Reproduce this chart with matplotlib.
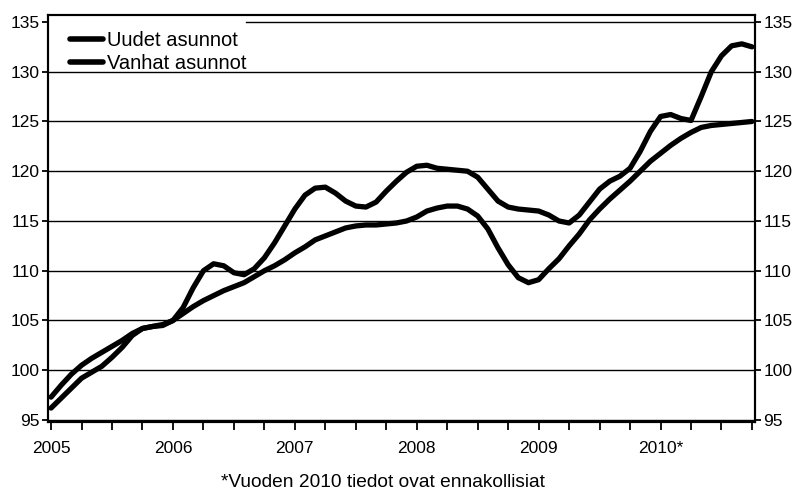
import numpy as np
import matplotlib
matplotlib.use('Agg')
import matplotlib.pyplot as plt

plt.rcParams['font.family'] = ['Liberation Sans', 'DejaVu Sans']

# monthly index values, Jan 2005 .. Oct 2010
uudet = [96.2, 97.2, 98.2, 99.2, 99.8, 100.4, 101.3, 102.3, 103.5, 104.2, 104.4, 104.5,
         105.0, 106.3, 108.3, 110.0, 110.7, 110.5, 109.8, 109.6, 110.2, 111.3, 112.8, 114.5,
         116.2, 117.6, 118.3, 118.4, 117.8, 117.0, 116.5, 116.4, 116.9, 118.0, 119.0, 119.9,
         120.5, 120.6, 120.3, 120.2, 120.1, 120.0, 119.4, 118.2, 117.0, 116.4, 116.2, 116.1,
         116.0, 115.6, 115.0, 114.8, 115.6, 116.9, 118.2, 119.0, 119.5, 120.3, 122.0, 124.0,
         125.5, 125.7, 125.3, 125.1, 127.5, 130.0, 131.6, 132.6, 132.8, 132.5]
vanhat = [97.3, 98.5, 99.6, 100.5, 101.2, 101.8, 102.4, 103.0, 103.7, 104.2, 104.4, 104.6,
          105.0, 105.7, 106.4, 107.0, 107.5, 108.0, 108.4, 108.8, 109.4, 110.0, 110.5, 111.1,
          111.8, 112.4, 113.1, 113.5, 113.9, 114.3, 114.5, 114.6, 114.6, 114.7, 114.8, 115.0,
          115.4, 116.0, 116.3, 116.5, 116.5, 116.2, 115.5, 114.2, 112.3, 110.6, 109.3, 108.8,
          109.1, 110.2, 111.2, 112.5, 113.7, 115.1, 116.2, 117.2, 118.1, 119.0, 120.0, 121.0,
          121.8, 122.6, 123.3, 123.9, 124.4, 124.6, 124.7, 124.8, 124.9, 125.0]
years = ['2005', '2006', '2007', '2008', '2009', '2010*']
y_ticks = [95, 100, 105, 110, 115, 120, 125, 130, 135]

months = np.arange(len(uudet))

fig = plt.figure(figsize=(7.97, 4.97), dpi=100)
ax = fig.add_axes([48/797, 75/497, 707/797, 407/497])

ax.set_ylim(94.8, 135.7)
ax.set_xlim(-0.3, 69.3)
ax.set_yticks(y_ticks)
for v in y_ticks:
    # top gridline is interrupted by the legend
    ax.axhline(v, xmin=0.28 if v == 135 else 0, color='black', lw=1.0, zorder=1)

ax.plot(months, uudet, color='black', lw=3.8, label='Uudet asunnot', zorder=3,
        solid_joinstyle='round', solid_capstyle='round')
ax.plot(months, vanhat, color='black', lw=3.8, label='Vanhat asunnot', zorder=3,
        solid_joinstyle='round', solid_capstyle='round')

xt = np.arange(0, 70, 3)
ax.set_xticks(xt)
ax.set_xticklabels([years[i // 12] if i % 12 == 0 else '' for i in xt])

for s in ax.spines.values():
    s.set_linewidth(1.5)
ax.tick_params(axis='x', length=6, width=1.3, labelsize=12.5, pad=8)
ax.tick_params(axis='y', length=4, width=1.3, labelsize=12.5, pad=2)

ax2 = ax.twinx()
ax2.set_ylim(ax.get_ylim())
ax2.set_yticks(y_ticks)
ax2.tick_params(axis='y', length=4, width=1.3, labelsize=12.5, pad=2)
for s in ax2.spines.values():
    s.set_linewidth(1.5)

leg = ax.legend(loc='upper left', bbox_to_anchor=(0.023, 0.975), fontsize=14.5,
                frameon=False, handlelength=1.6, handletextpad=0.2,
                labelspacing=0.2, borderpad=0.3, borderaxespad=0)
for h in leg.get_lines():
    h.set_linewidth(4)

fig.text(0.48, 0.03, '*Vuoden 2010 tiedot ovat ennakollisiat', ha='center',
         va='center', fontsize=13.8)

fig.savefig('out.png', dpi=100)
